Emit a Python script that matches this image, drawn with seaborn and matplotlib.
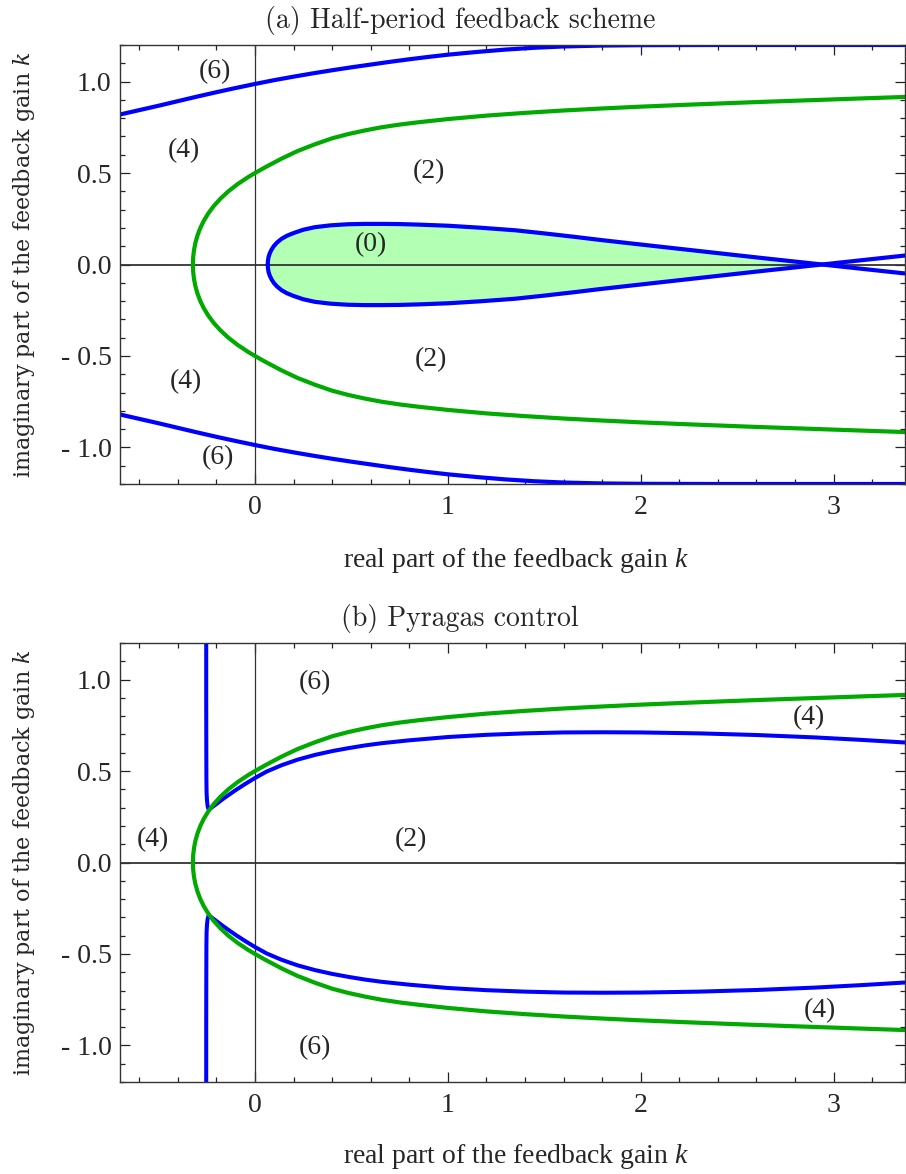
import numpy as np
import pandas as pd
import matplotlib
matplotlib.use("Agg")
import matplotlib.pyplot as plt
import seaborn as sns
from matplotlib.ticker import MultipleLocator

# Green stability boundary (identical in both schemes), upper half Im k >= 0
green_re = [-0.322, -0.3206, -0.3162, -0.3087, -0.2979, -0.2835, -0.2650, -0.2419, -0.2136,
            -0.1793, -0.1383, -0.0897, -0.0324, 0.000, 0.050, 0.138, 0.220, 0.310, 0.400,
            0.483, 0.570, 0.655, 0.750, 0.850, 1.000, 1.200, 1.400, 1.600, 1.800, 2.000,
            2.300, 2.600, 2.900, 3.200, 3.370]
green_im = [0.000, 0.040, 0.080, 0.120, 0.160, 0.200, 0.240, 0.280, 0.320,
            0.360, 0.400, 0.440, 0.480, 0.500, 0.530, 0.579, 0.620, 0.657, 0.690,
            0.713, 0.733, 0.750, 0.765, 0.778, 0.795, 0.814, 0.829, 0.842, 0.853, 0.863,
            0.876, 0.888, 0.899, 0.910, 0.916]

# (a) half-period feedback: outer blue boundary, upper half
a_outer_re = [-0.70, -0.60, -0.50, -0.40, -0.30, -0.20, -0.10, 0.00, 0.10, 0.20, 0.30,
              0.40, 0.50, 0.60, 0.70, 0.80, 0.90, 1.00, 1.15, 1.30, 1.45, 1.60, 1.80,
              2.00, 2.40, 2.80, 3.37]
a_outer_im = [0.820, 0.844, 0.868, 0.893, 0.918, 0.942, 0.965, 0.987, 1.008, 1.027, 1.045,
              1.062, 1.078, 1.093, 1.108, 1.122, 1.135, 1.147, 1.162, 1.175, 1.185, 1.192, 1.197,
              1.199, 1.200, 1.200, 1.200]

# (a) blue loop around the stable region, upper branch (crosses the real axis near 2.94)
a_loop_re = [0.066, 0.067, 0.070, 0.076, 0.085, 0.097, 0.114, 0.137, 0.165, 0.200, 0.250,
             0.310, 0.390, 0.480, 0.570, 0.660, 0.750, 0.850, 1.000, 1.170, 1.350, 1.500,
             1.650, 1.800, 1.960, 2.130, 2.300, 2.470, 2.650, 2.800, 2.940, 3.150, 3.370]
a_loop_im = [0.000, 0.020, 0.040, 0.060, 0.080, 0.100, 0.120, 0.140, 0.157, 0.172, 0.190,
             0.204, 0.214, 0.220, 0.222, 0.222, 0.221, 0.218, 0.212, 0.201, 0.187, 0.170,
             0.152, 0.133, 0.114, 0.094, 0.074, 0.054, 0.033, 0.016, 0.000, -0.024, -0.049]

# (b) Pyragas control: blue boundary, upper half
b_blue_re = [-0.2530, -0.2530, -0.2525, -0.2520, -0.2510, -0.2490, -0.2460, -0.2420, -0.2400,
             -0.2280, -0.2150, -0.2000, -0.1800, -0.1600, -0.1300, -0.1000, -0.0500, 0.000,
             0.060, 0.138, 0.220, 0.310, 0.400, 0.483, 0.570, 0.655, 0.800, 1.000, 1.200,
             1.400, 1.600, 1.800, 2.000, 2.300, 2.600, 2.900, 3.150, 3.370]
b_blue_im = [1.200, 0.900, 0.600, 0.450, 0.380, 0.340, 0.310, 0.294, 0.290,
             0.298, 0.308, 0.320, 0.336, 0.352, 0.374, 0.396, 0.430, 0.462,
             0.497, 0.532, 0.562, 0.588, 0.609, 0.625, 0.640, 0.652, 0.668, 0.686, 0.698,
             0.706, 0.711, 0.712, 0.711, 0.706, 0.697, 0.684, 0.670, 0.656]

x_ticks = [0, 1, 2, 3]
y_ticks = [-1.0, -0.5, 0.0, 0.5, 1.0]
y_tick_labels = ["- 1.0", "- 0.5", "0.0", "0.5", "1.0"]

# Region labels: number of unstable Floquet multipliers
a_labels = ["(6)", "(4)", "(2)", "(0)", "(2)", "(4)", "(6)"]
a_label_re = [-0.21, -0.37, 0.90, 0.60, 0.91, -0.36, -0.19]
a_label_im = [1.056, 0.62, 0.51, 0.109, -0.519, -0.638, -1.056]

b_labels = ["(6)", "(4)", "(2)", "(4)", "(6)", "(4)"]
b_label_re = [0.31, -0.53, 0.81, 2.87, 0.31, 2.93]
b_label_im = [0.984, 0.127, 0.127, 0.792, -1.011, -0.810]

titles = ["(a) Half-period feedback scheme", "(b) Pyragas control"]
x_label = r"real part of the feedback gain $k$"
y_label = r"imaginary part of the feedback gain $k$"

BLUE = "#0000ff"
GREEN = "#00aa00"
FILL = "#b3ffb3"

sns.set_style("ticks")
plt.rcParams["font.family"] = ["Liberation Serif", "DejaVu Serif"]
plt.rcParams["mathtext.fontset"] = "custom"
plt.rcParams["mathtext.rm"] = "Liberation Serif"
plt.rcParams["mathtext.it"] = "Liberation Serif:italic"

W, H = 906, 1174
fig = plt.figure(figsize=(W / 100, H / 100), dpi=100)


def mirrored(re, im):
    """Join an upper-half curve with its complex-conjugate mirror."""
    re = np.asarray(re)
    im = np.asarray(im)
    xs = np.concatenate([re[::-1], re[1:]])
    ys = np.concatenate([-im[::-1], im[1:]])
    return pd.DataFrame({"re": xs, "im": ys})


def style_axes(ax):
    ax.set_xlim(-0.70, 3.37)
    ax.set_ylim(-1.2, 1.2)
    ax.set_xticks(x_ticks)
    ax.set_xticklabels([str(t) for t in x_ticks])
    ax.set_yticks(y_ticks)
    ax.set_yticklabels(y_tick_labels)
    ax.xaxis.set_minor_locator(MultipleLocator(0.2))
    ax.yaxis.set_minor_locator(MultipleLocator(0.1))
    ax.tick_params(which="both", direction="in", top=True, right=True,
                   color="#222222", width=0.9)
    ax.tick_params(which="major", length=7)
    ax.tick_params(which="minor", length=3.5)
    ax.tick_params(axis="x", which="major", labelsize=20, pad=8)
    ax.tick_params(axis="y", which="major", labelsize=20, pad=6)
    for sp in ax.spines.values():
        sp.set_visible(True)
        sp.set_color("#333333")
        sp.set_linewidth(1.0)
        sp.set_zorder(6)
    ax.axhline(0, color="#333333", lw=1.3, zorder=2)
    ax.axvline(0, color="#333333", lw=0.9, zorder=2)
    ax.set_xlabel("")
    ax.set_ylabel("")


def curve(ax, df, color, lw=3.0, z=3):
    sns.lineplot(data=df, x="re", y="im", sort=False, estimator=None,
                 color=color, lw=lw, ax=ax, zorder=z)


axh = 439 / H
axw = 785 / W
ax_a = fig.add_axes([120 / W, 1 - 484 / H, axw, axh])
ax_b = fig.add_axes([120 / W, 1 - 1082 / H, axw, axh])

# ---- (a) half-period feedback scheme
lre = np.asarray(a_loop_re)
lim = np.asarray(a_loop_im)
ax_a.fill_between(lre, lim, -lim, where=lim >= 0, interpolate=True,
                  color=FILL, lw=0, zorder=1)
curve(ax_a, pd.DataFrame({"re": a_outer_re, "im": a_outer_im}), BLUE)
curve(ax_a, pd.DataFrame({"re": a_outer_re, "im": -np.asarray(a_outer_im)}), BLUE)
curve(ax_a, pd.DataFrame({"re": a_loop_re, "im": a_loop_im}), BLUE)
curve(ax_a, pd.DataFrame({"re": a_loop_re, "im": -lim}), BLUE)
curve(ax_a, mirrored(green_re, green_im), GREEN, z=4)
for t, x, y in zip(a_labels, a_label_re, a_label_im):
    ax_a.text(x, y, t, ha="center", va="center", fontsize=20, zorder=7)
style_axes(ax_a)

# ---- (b) Pyragas control
curve(ax_b, pd.DataFrame({"re": b_blue_re, "im": b_blue_im}), BLUE, lw=2.9)
curve(ax_b, pd.DataFrame({"re": b_blue_re, "im": -np.asarray(b_blue_im)}), BLUE, lw=2.9)
curve(ax_b, mirrored(green_re, green_im), GREEN, z=4)
for t, x, y in zip(b_labels, b_label_re, b_label_im):
    ax_b.text(x, y, t, ha="center", va="center", fontsize=20, zorder=7)
style_axes(ax_b)

# titles and axis labels
for title, ybase in zip(titles, [28, 626]):
    fig.text(460 / W, 1 - ybase / H, title, ha="center", va="baseline",
             fontsize=20, family="cmr10")

for ybase in [567, 1163]:
    fig.text(516 / W, 1 - ybase / H, x_label, ha="center", va="baseline",
             fontsize=20, math_fontfamily="custom")

for yc in [264.5, 862.5]:
    fig.text(24 / W, 1 - yc / H, y_label, ha="center", va="center", rotation=90,
             fontsize=16, family="DejaVu Serif", math_fontfamily="dejavuserif")

fig.savefig("out.png", dpi=100)
